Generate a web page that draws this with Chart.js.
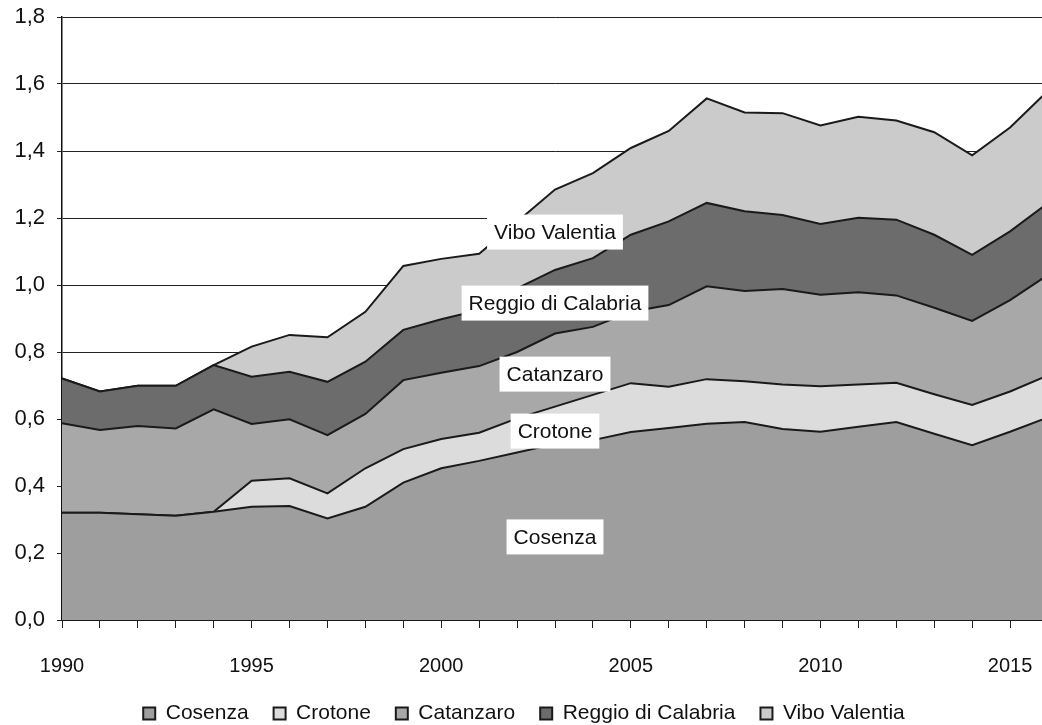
<!DOCTYPE html>
<html>
<head>
<meta charset="utf-8">
<script src="https://cdn.jsdelivr.net/npm/chart.js@4"></script>
<style>
  html, body { margin: 0; padding: 0; background: #fff; overflow: hidden; }
  #wrap { position: relative; width: 1050px; height: 725px; }
</style>
</head>
<body>
<div id="wrap"><canvas id="chart"></canvas></div>
<script>
const years = ['1990','1991','1992','1993','1994','1995','1996','1997','1998','1999','2000','2001','2002','2003','2004','2005','2006','2007','2008','2009','2010','2011','2012','2013','2014','2015','2016'];

const cosenza    = [0.320,0.320,0.316,0.311,0.323,0.338,0.340,0.303,0.338,0.410,0.453,0.475,0.500,0.525,0.537,0.561,0.573,0.586,0.591,0.570,0.562,0.577,0.591,0.556,0.522,0.562,0.605];
const crotone    = [0,0,0,0,0,0.078,0.083,0.075,0.115,0.100,0.087,0.084,0.102,0.112,0.135,0.146,0.123,0.133,0.122,0.133,0.136,0.126,0.117,0.118,0.120,0.120,0.125];
const catanzaro  = [0.267,0.247,0.263,0.261,0.306,0.169,0.176,0.174,0.162,0.206,0.198,0.199,0.198,0.218,0.203,0.213,0.244,0.277,0.269,0.285,0.273,0.275,0.261,0.258,0.251,0.273,0.300];
const reggio     = [0.134,0.115,0.120,0.127,0.132,0.141,0.142,0.159,0.156,0.150,0.160,0.167,0.190,0.190,0.205,0.230,0.250,0.249,0.238,0.221,0.211,0.223,0.226,0.218,0.197,0.205,0.215];
const vibo       = [0,0,0,0,0,0.090,0.110,0.133,0.149,0.191,0.180,0.168,0.199,0.240,0.254,0.259,0.270,0.312,0.295,0.304,0.294,0.301,0.296,0.306,0.297,0.310,0.335];

const seriesNames = ['Cosenza', 'Crotone', 'Catanzaro', 'Reggio di Calabria', 'Vibo Valentia'];
const seriesFills = ['#9e9e9e', '#dcdcdc', '#a8a8a8', '#6c6c6c', '#cbcbcb'];

// in-chart name labels: year and stacked value where each box sits
const labelYear  = '2003';
const labelValue = [0.248, 0.564, 0.734, 0.946, 1.158];

const FONT = '"Liberation Sans", Arial, sans-serif';

const areaLabels = {
  id: 'areaLabels',
  afterDatasetsDraw(chart) {
    const { ctx, scales: { x, y } } = chart;
    const px = x.getPixelForValue(years.indexOf(labelYear));
    ctx.save();
    ctx.font = '21px ' + FONT;
    ctx.textAlign = 'center';
    ctx.textBaseline = 'middle';
    seriesNames.forEach((name, i) => {
      const py = y.getPixelForValue(labelValue[i]);
      const w = ctx.measureText(name).width + 14;
      const h = 35;
      ctx.fillStyle = '#fff';
      ctx.fillRect(px - w / 2, py - h / 2, w, h);
      ctx.fillStyle = '#111';
      ctx.fillText(name, px, py + 1);
    });
    ctx.restore();
  }
};

const values = [cosenza, crotone, catanzaro, reggio, vibo];

new Chart(document.getElementById('chart'), {
  type: 'line',
  data: {
    labels: years,
    datasets: values.map((data, i) => ({
      label: seriesNames[i],
      data: data,
      backgroundColor: seriesFills[i],
      borderColor: '#1a1a1a',
      borderWidth: 2,
      pointRadius: 0,
      tension: 0,
      fill: i === 0 ? 'origin' : '-1',
    })),
  },
  options: {
    responsive: true,
    maintainAspectRatio: false,
    animation: false,
    layout: { padding: { left: 0, right: 2, top: 0, bottom: 0 } },
    scales: {
      x: {
        offset: false,
        grid: { drawOnChartArea: false, drawTicks: true, tickLength: 8, color: '#222', lineWidth: 1 },
        border: { display: true, color: '#111', width: 1.5 },
        ticks: {
          autoSkip: false,
          maxRotation: 0,
          padding: 26,
          color: '#111',
          font: { family: FONT, size: 20 },
          callback: function (value) {
            const yr = this.getLabelForValue(value);
            return Number(yr) % 5 === 0 ? yr : '';
          },
        },
        afterFit: (scale) => {
          scale.height = 58;
          scale.paddingLeft = 0;
          scale.paddingRight = 0;
        },
      },
      y: {
        stacked: true,
        min: 0,
        max: 1.8,
        grid: { color: '#222', lineWidth: 1, tickLength: 5 },
        border: { display: true, color: '#111', width: 1.5 },
        ticks: {
          stepSize: 0.2,
          padding: 12,
          color: '#111',
          font: { family: FONT, size: 22 },
          callback: v => v.toFixed(1).replace('.', ','),
        },
        afterFit: (scale) => {
          scale.width = 62;
          scale.paddingTop = 17;
          scale.paddingBottom = 0;
        },
      },
    },
    plugins: {
      legend: {
        display: true,
        position: 'bottom',
        maxHeight: 47,
        labels: {
          boxWidth: 12,
          boxHeight: 12,
          padding: 25,
          color: '#111',
          font: { family: FONT, size: 21 },
        },
        onClick: () => {},
      },
      tooltip: { enabled: false },
    },
  },
  plugins: [areaLabels],
});
</script>
</body>
</html>
